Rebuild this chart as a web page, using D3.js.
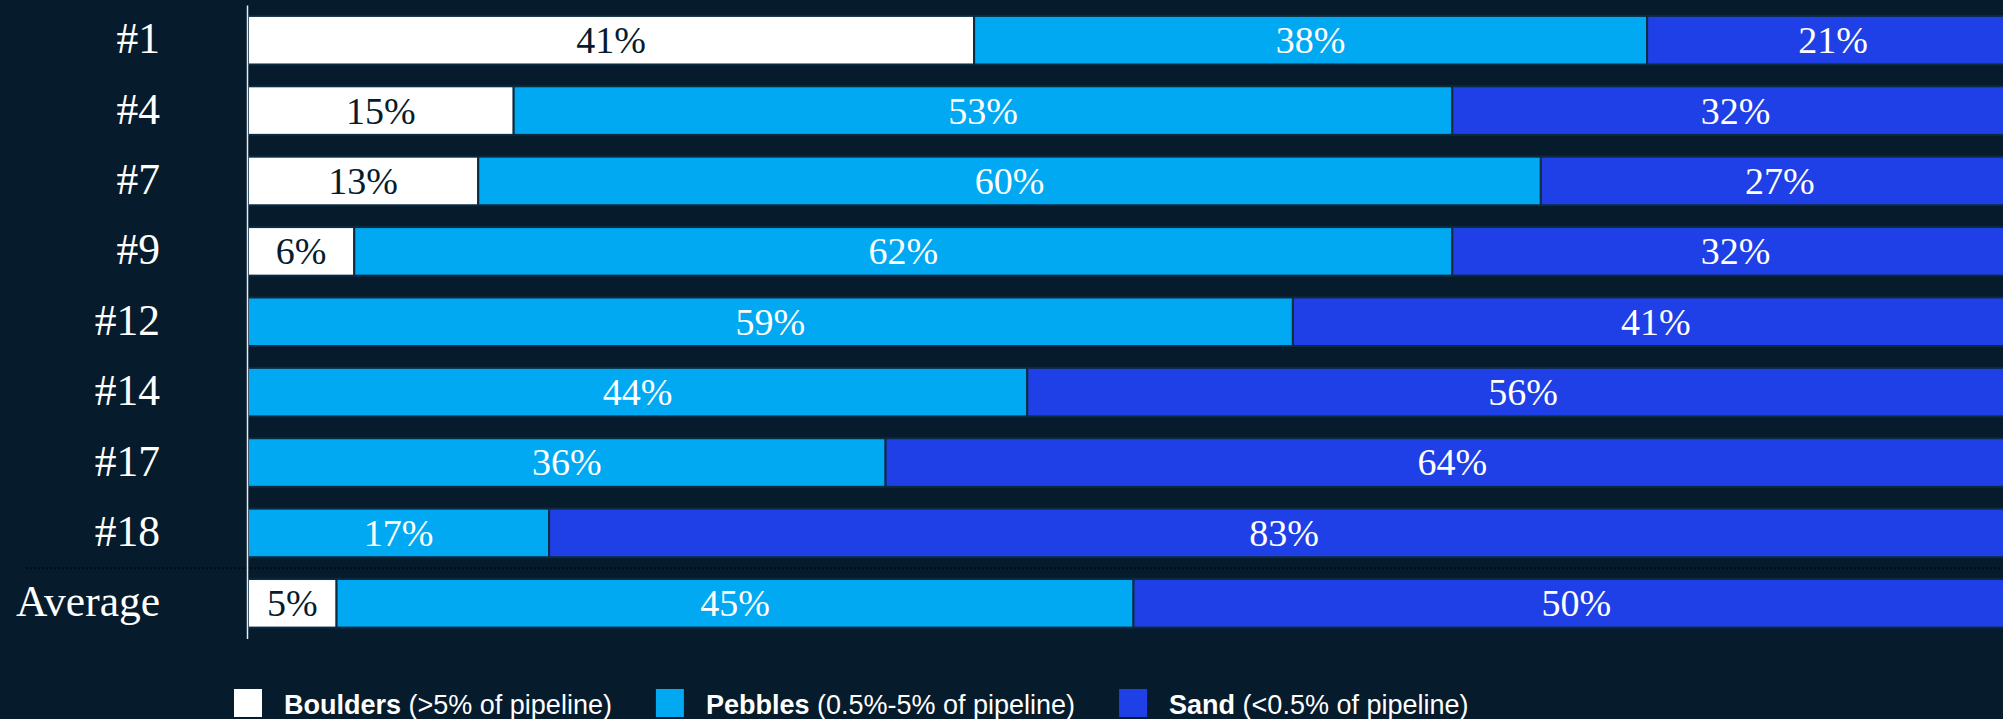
<!DOCTYPE html>
<html>
<head>
<meta charset="utf-8">
<script src="https://cdn.jsdelivr.net/npm/d3@7"></script>
<style>
  html, body { margin: 0; padding: 0; background: #061c2c; }
  svg { display: block; }
</style>
</head>
<body>
<svg id="chart" width="2003" height="719"></svg>
<script>
const categories = ["#1", "#4", "#7", "#9", "#12", "#14", "#17", "#18", "Average"];
const boulders = [41, 15, 13, 6, 0, 0, 0, 0, 5];
const pebbles  = [38, 53, 60, 62, 59, 44, 36, 17, 45];
const sand     = [21, 32, 27, 32, 41, 56, 64, 83, 50];
const seriesNames = ["Boulders", "Pebbles", "Sand"];
const seriesNotes = [" (>5% of pipeline)", " (0.5%-5% of pipeline)", " (<0.5% of pipeline)"];

const colors = { Boulders: "#ffffff", Pebbles: "#00a9f1", Sand: "#1f40e6" };
const labelColors = { Boulders: "#061c2c", Pebbles: "#ffffff", Sand: "#ffffff" };

const rows = categories.map((c, i) => ({ cat: c, Boulders: boulders[i], Pebbles: pebbles[i], Sand: sand[i] }));

const svg = d3.select("#chart");
const W = 2003, H = 719;
svg.append("rect").attr("width", W).attr("height", H).attr("fill", "#061c2c");

const x = d3.scaleLinear().domain([0, 100]).range([248, 2019]);
const y = d3.scaleBand().domain(categories).range([5, 638.5]).paddingInner(0.31).paddingOuter(0.155);

const stack = d3.stack().keys(seriesNames)(rows);

const g = svg.append("g");
stack.forEach(layer => {
  const key = layer.key;
  const lg = g.append("g");
  const segs = layer.filter(d => d[1] - d[0] > 0);
  lg.selectAll("rect").data(segs).join("rect")
    .attr("x", d => x(d[0]))
    .attr("y", d => y(d.data.cat))
    .attr("width", d => x(d[1]) - x(d[0]))
    .attr("height", y.bandwidth())
    .attr("fill", colors[key])
    .attr("stroke", "#0c2a40")
    .attr("stroke-width", 2);
  lg.selectAll("text").data(segs).join("text")
    .attr("x", d => (x(d[0]) + x(d[1])) / 2)
    .attr("y", d => y(d.data.cat) + y.bandwidth() / 2)
    .attr("dy", "0.34em")
    .attr("text-anchor", "middle")
    .attr("font-family", "'Liberation Serif', 'Times New Roman', serif")
    .attr("font-size", 38)
    .attr("fill", labelColors[key])
    .text(d => (d[1] - d[0]) + "%");
});

// dotted separator before Average
const sepY = (y("#18") + y.bandwidth() + y("Average")) / 2;
svg.append("line")
  .attr("x1", 26).attr("x2", W)
  .attr("y1", sepY).attr("y2", sepY)
  .attr("stroke", "#000000").attr("stroke-width", 1)
  .attr("stroke-dasharray", "2,2");

// y axis
const yAxis = svg.append("g").attr("transform", "translate(247,0)")
  .call(d3.axisLeft(y).tickSize(0).tickPadding(87));
yAxis.select(".domain").attr("stroke", "#e8ecef").attr("stroke-width", 1.5);
yAxis.selectAll("text")
  .attr("font-family", "'Liberation Serif', 'Times New Roman', serif")
  .attr("font-size", 43.5)
  .attr("fill", "#ffffff")
  .attr("dy", "0.3em");

// legend
const legend = svg.append("g").attr("transform", "translate(234,689)");
let lx = 0;
seriesNames.forEach((name, i) => {
  const item = legend.append("g").attr("transform", `translate(${lx},0)`);
  item.append("rect").attr("width", 28).attr("height", 28).attr("fill", colors[name]);
  const t = item.append("text")
    .attr("x", 50).attr("y", 25)
    .attr("font-family", "'Liberation Sans', Arial, sans-serif")
    .attr("font-size", 27)
    .attr("fill", "#ffffff");
  t.append("tspan").attr("font-weight", "bold").text(name);
  t.append("tspan").text(seriesNotes[i]);
  const len = t.node().getComputedTextLength();
  lx += 50 + len + 44;
});
</script>
</body>
</html>
